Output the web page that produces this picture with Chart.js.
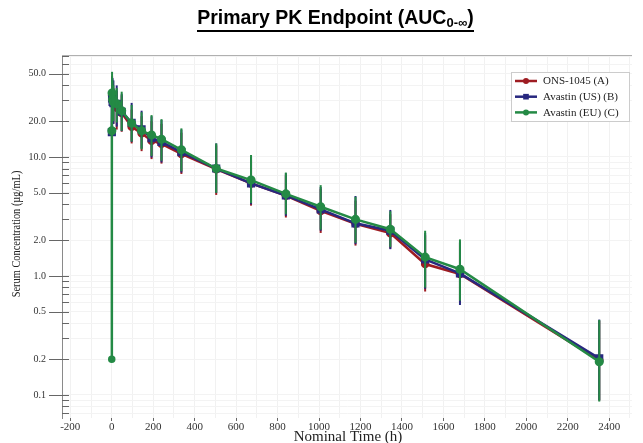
<!DOCTYPE html>
<html>
<head>
<meta charset="utf-8">
<script src="https://cdn.jsdelivr.net/npm/chart.js@4.4.0/dist/chart.umd.min.js"></script>
<style>
    html, body { margin: 0; padding: 0; background: #fff; }
    #wrap { position: relative; width: 643px; height: 443px; }
    #pk-chart { position: absolute; left: 0; top: 0; }
    #title {
        position: absolute; left: 14px; top: 6px; width: 643px; text-align: center;
        font-family: 'Liberation Sans', Arial, sans-serif; font-weight: bold; font-size: 19.5px; color: #000;
    }
    #title span { display: inline-block; border-bottom: 2px solid #000; padding-bottom: 1px; line-height: 23px; }
    #title sub { font-size: 13px; vertical-align: -3px; line-height: 0; }
</style>
</head>
<body>
<div id="wrap">
    <canvas id="pk-chart" width="643" height="443"></canvas>
    <div id="title"><span>Primary PK Endpoint (AUC<sub>0-∞</sub>)</span></div>
</div>
<script>
// Nominal sampling times (h)
var times = [0, 0.5, 1.5, 4, 8, 24, 48, 96, 144, 192, 240, 336, 504, 672, 840, 1008, 1176, 1344, 1512, 1680, 2352];

// Mean serum concentration (ug/mL)
var onsMean   = [null, null, 33, 30, 28, 26, 23.4, 18.0, 15.8, 13.7, 12.9, 10.6, 7.9, 6.0, 4.73, 3.52, 2.75, 2.29, 1.26, 1.04, 0.196];
var usMean    = [null, 16.2, 31, 29, 28.3, 28, 24, 19.4, 17.1, 14.4, 13.4, 11.0, 8.0, 6.0, 4.75, 3.63, 2.77, 2.40, 1.38, 1.05, 0.203];
var euMean    = [0.2, 16.6, 34.5, 30.5, 29, 28, 24.5, 19.2, 16.6, 15.3, 14.1, 11.5, 8.0, 6.4, 4.9, 3.82, 2.99, 2.47, 1.44, 1.14, 0.19];

// Error bar ends (mean +/- SD)
var onsLow    = [null, null, 21, 20, 19, 17, 16.3, 13.0, 11.2, 9.6, 8.8, 7.2, 4.8, 3.9, 3.1, 2.3, 1.8, 1.7, 0.74, 0.6, 0.09];
var onsHigh   = [null, null, 48, 42, 38, 36, 33, 25, 22, 20, 19, 16, 12.5, 9.6, 7.0, 5.4, 4.3, 3.3, 2.2, 1.9, 0.42];
var usLow     = [null, null, 20, 19, 19, 18, 16.5, 13.4, 11.8, 9.9, 9.0, 7.4, 5.0, 4.0, 3.2, 2.4, 1.85, 1.68, 0.78, 0.57, 0.09];
var usHigh    = [null, null, 47, 46, 44, 40, 34, 28.5, 24.5, 22, 20.5, 17, 13, 10, 7.3, 5.6, 4.7, 3.59, 2.3, 1.95, 0.43];
var euLow     = [null, null, 22, 21, 20, 19.5, 16.6, 13.5, 11.6, 10.2, 9.3, 7.6, 5.0, 4.1, 3.3, 2.45, 1.9, 1.75, 0.8, 0.62, 0.088];
var euHigh    = [null, null, 52, 44, 40, 38, 35.4, 27.4, 23.8, 22.5, 20.8, 17.4, 13.0, 10.4, 7.4, 5.8, 4.63, 3.5, 2.40, 2.03, 0.427];

// Axis ticks
var xLabelTicks = [-200, 0, 200, 400, 600, 800, 1000, 1200, 1400, 1600, 1800, 2000, 2200, 2400];
var yLabelTicks = [0.1, 0.2, 0.5, 1, 2, 5, 10, 20, 50];

var seriesNames = ['ONS-1045 (A)', 'Avastin (US) (B)', 'Avastin (EU) (C)'];
var seriesColors = ['#9e1c22', '#28287f', '#248a45'];

var serif = "'Liberation Serif', 'Times New Roman', serif";

function toPoints(arr) {
    var out = [];
    for (var i = 0; i < times.length; i++) {
        out.push({ x: times[i], y: arr[i] });
    }
    return out;
}

function isLabelY(v) {
    for (var i = 0; i < yLabelTicks.length; i++) {
        if (Math.abs(v - yLabelTicks[i]) < 1e-9) return true;
    }
    return false;
}

// vertical error bars, drawn right after each dataset
var errorBars = {
    id: 'errorBars',
    afterDatasetDraw: function(chart, args) {
        var ds = chart.data.datasets[args.index];
        if (!ds.errLow) return;
        var y = chart.scales.y;
        var area = chart.chartArea;
        var ctx = chart.ctx;
        ctx.save();
        ctx.beginPath();
        ctx.rect(area.left, area.top, area.right - area.left, area.bottom - area.top);
        ctx.clip();
        ctx.strokeStyle = ds.borderColor;
        ctx.lineWidth = 2;
        args.meta.data.forEach(function(pt, i) {
            if (ds.errLow[i] == null || ds.errHigh[i] == null) return;
            ctx.beginPath();
            ctx.moveTo(pt.x, y.getPixelForValue(ds.errLow[i]));
            ctx.lineTo(pt.x, y.getPixelForValue(ds.errHigh[i]));
            ctx.stroke();
        });
        ctx.restore();
    }
};

// y tick marks (long majors crossing the axis, short minors inside), frame line, axis titles, legend
var decorations = {
    id: 'decorations',
    afterDraw: function(chart) {
        var ctx = chart.ctx;
        var area = chart.chartArea;
        var y = chart.scales.y;
        ctx.save();
        ctx.strokeStyle = '#b0b0b0';
        ctx.lineWidth = 1;
        ctx.beginPath();
        ctx.moveTo(area.left, area.top + 0.5);
        ctx.lineTo(area.right, area.top + 0.5);
        ctx.stroke();

        ctx.strokeStyle = '#666';
        y.ticks.forEach(function(t) {
            var py = Math.round(y.getPixelForValue(t.value)) + 0.5;
            ctx.beginPath();
            ctx.moveTo(isLabelY(t.value) ? area.left - 13 : area.left, py);
            ctx.lineTo(area.left + 7, py);
            ctx.stroke();
        });

        // axis titles
        ctx.fillStyle = '#222';
        ctx.textAlign = 'center';
        ctx.textBaseline = 'middle';
        ctx.font = '15px ' + serif;
        ctx.fillText('Nominal Time (h)', 348, 437.5);
        ctx.save();
        ctx.translate(17, 234);
        ctx.rotate(-Math.PI / 2);
        ctx.scale(0.8, 1);
        ctx.font = '13px ' + serif;
        ctx.fillText('Serum Concentration (µg/mL)', 0, 0);
        ctx.restore();

        // legend
        var bx = 511.5, by = 72.5, bw = 118, bh = 49;
        ctx.fillStyle = '#fff';
        ctx.fillRect(bx, by, bw, bh);
        ctx.strokeStyle = '#cccccc';
        ctx.strokeRect(bx, by, bw, bh);
        ctx.font = '11px ' + serif;
        ctx.textBaseline = 'middle';
        ctx.textAlign = 'left';
        var styles = ['circle', 'rect', 'circle'];
        for (var i = 0; i < seriesNames.length; i++) {
            var ry = 81 + i * 15.7;
            ctx.strokeStyle = seriesColors[i];
            ctx.fillStyle = seriesColors[i];
            ctx.lineWidth = 2.5;
            ctx.beginPath();
            ctx.moveTo(515, ry);
            ctx.lineTo(537, ry);
            ctx.stroke();
            Chart.helpers.drawPoint(ctx, { pointStyle: styles[i], radius: i === 1 ? 4 : 3, rotation: 0, borderWidth: 0 }, 526, ry);
            ctx.fillStyle = '#222';
            ctx.fillText(seriesNames[i], 543, ry + 0.5);
        }
        ctx.restore();
    }
};

var pkChart = new Chart(document.getElementById('pk-chart').getContext('2d'), {
    type: 'line',
    data: {
        datasets: [
            {
                label: seriesNames[0], data: toPoints(onsMean), errLow: onsLow, errHigh: onsHigh,
                borderColor: seriesColors[0], backgroundColor: seriesColors[0],
                pointStyle: 'circle', pointRadius: 3, borderWidth: 2.5, order: 2
            },
            {
                label: seriesNames[1], data: toPoints(usMean), errLow: usLow, errHigh: usHigh,
                borderColor: seriesColors[1], backgroundColor: seriesColors[1],
                pointStyle: 'rect', pointRadius: 4, borderWidth: 2.5, order: 1
            },
            {
                label: seriesNames[2], data: toPoints(euMean), errLow: euLow, errHigh: euHigh,
                borderColor: seriesColors[2], backgroundColor: seriesColors[2],
                pointStyle: 'circle', borderWidth: 2.5, order: 0,
                pointRadius: function(c) { return c.dataIndex === 0 ? 2.5 : 3.3; }
            }
        ]
    },
    options: {
        responsive: false,
        animation: false,
        devicePixelRatio: 1,
        layout: { padding: { top: 55, right: 11, left: 0, bottom: 0 } },
        elements: { line: { tension: 0 }, point: { borderWidth: 0, hoverRadius: 4 } },
        plugins: {
            legend: { display: false },
            title: { display: false },
            tooltip: { enabled: false }
        },
        scales: {
            x: {
                type: 'linear',
                min: -240,
                max: 2510,
                afterBuildTicks: function(scale) {
                    var t = [];
                    for (var v = -200; v <= 2500; v += 100) t.push({ value: v });
                    scale.ticks = t;
                },
                afterFit: function(scale) { scale.height = 25; },
                ticks: {
                    autoSkip: false,
                    maxRotation: 0,
                    padding: 0,
                    color: '#333',
                    font: { family: serif, size: 11 },
                    callback: function(v) { return xLabelTicks.indexOf(v) !== -1 ? String(v) : ''; }
                },
                grid: {
                    color: '#f1f1f1',
                    drawTicks: true,
                    tickLength: 3,
                    tickColor: function(c) {
                        return c.tick && xLabelTicks.indexOf(c.tick.value) !== -1 ? '#666' : 'rgba(0,0,0,0)';
                    }
                },
                border: { display: false },
                title: { display: false }
            },
            y: {
                type: 'logarithmic',
                min: 0.064,
                max: 72,
                afterBuildTicks: function(scale) {
                    var t = [];
                    for (var k = -2; k <= 1; k++) {
                        for (var m = 1; m <= 9; m++) {
                            var v = Number((m * Math.pow(10, k)).toPrecision(3));
                            if (v >= 0.064 && v <= 72) t.push({ value: v });
                        }
                    }
                    scale.ticks = t;
                },
                afterFit: function(scale) { scale.width = 62; },
                ticks: {
                    autoSkip: false,
                    padding: 16,
                    color: '#333',
                    font: { family: serif, size: 10 },
                    callback: function(v) { return isLabelY(v) ? v.toFixed(1) : ''; }
                },
                grid: { color: '#f3f3f3', drawTicks: false },
                border: { display: true, color: '#8a8a8a', width: 1 },
                title: { display: false }
            }
        }
    },
    plugins: [errorBars, decorations]
});
</script>
</body>
</html>
